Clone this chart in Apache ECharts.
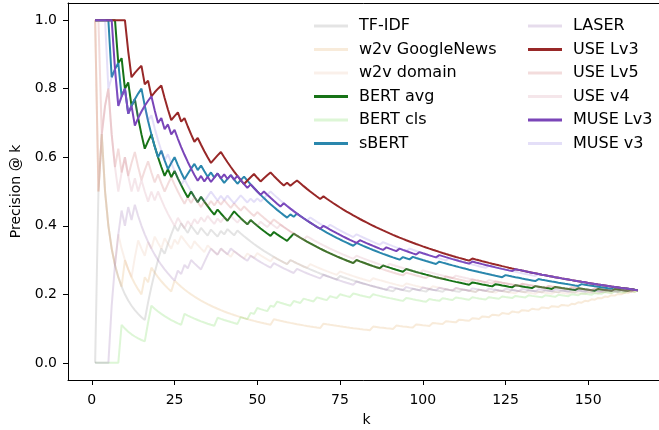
<!DOCTYPE html>
<html><head><meta charset="utf-8">
<script src="https://cdn.jsdelivr.net/npm/echarts@6/dist/echarts.min.js"></script>
<style>html,body{margin:0;padding:0;background:#fff}#c{width:659px;height:430px}</style>
</head><body><div id="c"></div>
<script>
// ---- data ----
const kMax = 165;                       // last k on the x axis
const xTicks = [0, 25, 50, 75, 100, 125, 150];
const yTicks = [0, 0.2, 0.4, 0.6, 0.8, 1.0];
const seriesNames = ['TF-IDF','w2v GoogleNews','w2v domain','BERT avg','BERT cls','sBERT',
                     'LASER','USE Lv3','USE Lv5','USE v4','MUSE Lv3','MUSE v3'];
const tfidfHits   = [2,3,17,18,19,20,21,23,24,25,27,30,33,36,39,41,44,60,75,92,97,102,107,112,117,122,127,132,137,142,147,152,156,160,164];
const w2vGoogleHits = [1,3,10,16,18,25,55,70,85,92,98,103,107,111,115,118,121,124,127,130,133,136,139,142,145,147,149,151,153,155,157,159,161,163,165];
const w2vDomainHits = [1,3,8,13,14,17,19,22,25,27,31,35,39,43,47,50,55,60,66,75,85,95,103,110,117,123,129,135,140,145,150,154,158,162,165];
const bertAvgHits = [1,2,3,4,5,6,7,9,11,13,17,18,23,25,30,33,38,42,43,48,55,60,61,80,88,95,115,122,128,134,140,147,153,158,163];
const bertClsHits = [9,17,18,28,38,45,48,50,54,56,61,64,68,72,75,79,85,95,102,106,110,115,120,124,128,132,137,141,145,148,152,155,158,162,165];
const sbertHits   = [1,2,3,4,5,7,8,10,12,13,14,15,21,24,25,29,30,31,33,36,38,41,42,45,46,60,62,80,94,97,105,125,135,148,158];
const laserHits   = [6,7,8,9,11,13,26,28,30,34,35,36,39,42,48,55,62,70,80,90,95,100,105,110,115,120,125,130,135,140,145,150,155,160,164];
const useLv3Hits  = [1,2,3,4,5,6,7,8,9,10,13,14,15,17,19,20,21,25,26,28,32,37,38,39,47,48,49,52,53,54,59,61,62,70,115];
const useLv5Hits  = [1,2,4,5,8,10,12,13,16,17,20,23,24,29,31,34,36,38,40,43,46,50,55,80,95,102,107,115,122,130,138,145,152,158,164];
const useV4Hits   = [1,3,4,5,9,10,13,15,18,20,26,29,31,33,35,38,40,42,45,48,51,54,57,65,80,90,100,110,120,130,138,145,152,158,163];
const museLv3Hits = [1,2,3,4,5,6,9,10,12,14,15,16,17,18,21,23,25,33,35,37,38,40,42,44,48,52,58,70,81,89,93,99,105,115,128];
const museV3Hits  = [1,2,3,4,6,7,9,10,12,13,15,16,18,23,28,33,35,36,39,41,44,45,48,50,52,53,54,66,72,80,88,96,108,120,135];

const hitLists = [tfidfHits,w2vGoogleHits,w2vDomainHits,bertAvgHits,bertClsHits,sbertHits,
                  laserHits,useLv3Hits,useLv5Hits,useV4Hits,museLv3Hits,museV3Hits];
const colors = ['rgba(120,120,120,0.2)','rgba(225,170,100,0.24)','rgba(230,180,150,0.2)','#177317',
                'rgba(120,220,90,0.25)','#2a87ad','rgba(150,110,175,0.24)','#982828',
                'rgba(205,110,110,0.24)','rgba(205,130,150,0.2)','#7a45b8','rgba(130,110,225,0.22)'];

// precision@k = relevant items within the top k, divided by k
function precisionCurve(hits) {
  const out = [];
  let found = 0;
  for (let k = 1; k <= kMax; k++) {
    if (hits.indexOf(k) >= 0) found++;
    out.push([k, found / k]);
  }
  return out;
}

const FONT = 'DejaVu Sans';
const chart = echarts.init(document.getElementById('c'), null, {renderer: 'canvas'});
const series = seriesNames.map((n, i) => ({
  name: n, type: 'line', data: precisionCurve(hitLists[i]),
  symbol: 'none', color: colors[i], lineStyle: {width: 2, color: colors[i]},
  emphasis: {disabled: true}, animation: false
}));
const legendBase = {
  orient: 'vertical', icon: 'rect', itemWidth: 34, itemHeight: 3, itemGap: 5.5, top: 17,
  selectedMode: false, padding: 0,
  textStyle: {fontFamily: FONT, fontSize: 16, color: '#000', lineHeight: 18, padding: [0,0,0,6]}
};
const spine = {show: true, onZero: false, lineStyle: {color: '#000', width: 1}};
chart.setOption({
  animation: false,
  backgroundColor: '#fff',
  grid: {left: 68, top: 3, width: 597, height: 377, show: false, outerBoundsMode: 'none', containLabel: false},
  legend: [
    Object.assign({}, legendBase, {left: 314, data: seriesNames.slice(0, 6)}),
    Object.assign({}, legendBase, {left: 528, data: seriesNames.slice(6)})
  ],
  xAxis: [{
    type: 'value', position: 'bottom', min: -7.2, max: 173.2, name: 'k', nameLocation: 'middle', nameGap: 33,
    nameTextStyle: {fontFamily: FONT, fontSize: 14, color: '#000'},
    axisLine: spine, splitLine: {show: false},
    axisTick: {show: true, length: 5, lineStyle: {color: '#000'}, customValues: xTicks},
    axisLabel: {fontFamily: FONT, fontSize: 14, color: '#000', margin: 13, customValues: xTicks}
  }, {
    type: 'value', position: 'top', min: -7.2, max: 173.2,
    axisLine: spine, axisTick: {show: false}, axisLabel: {show: false}, splitLine: {show: false}
  }],
  yAxis: {
    type: 'value', position: 'left', min: -0.05, max: 1.05, name: 'Precision @ k', nameLocation: 'middle', nameGap: 44,
    nameTextStyle: {fontFamily: FONT, fontSize: 14, color: '#000'},
    axisLine: spine, splitLine: {show: false},
    axisTick: {show: true, length: 5, lineStyle: {color: '#000'}, customValues: yTicks},
    axisLabel: {fontFamily: FONT, fontSize: 14, color: '#000', margin: 11, customValues: yTicks,
                formatter: v => v.toFixed(1)}
  },
  series: series
});
</script></body></html>
